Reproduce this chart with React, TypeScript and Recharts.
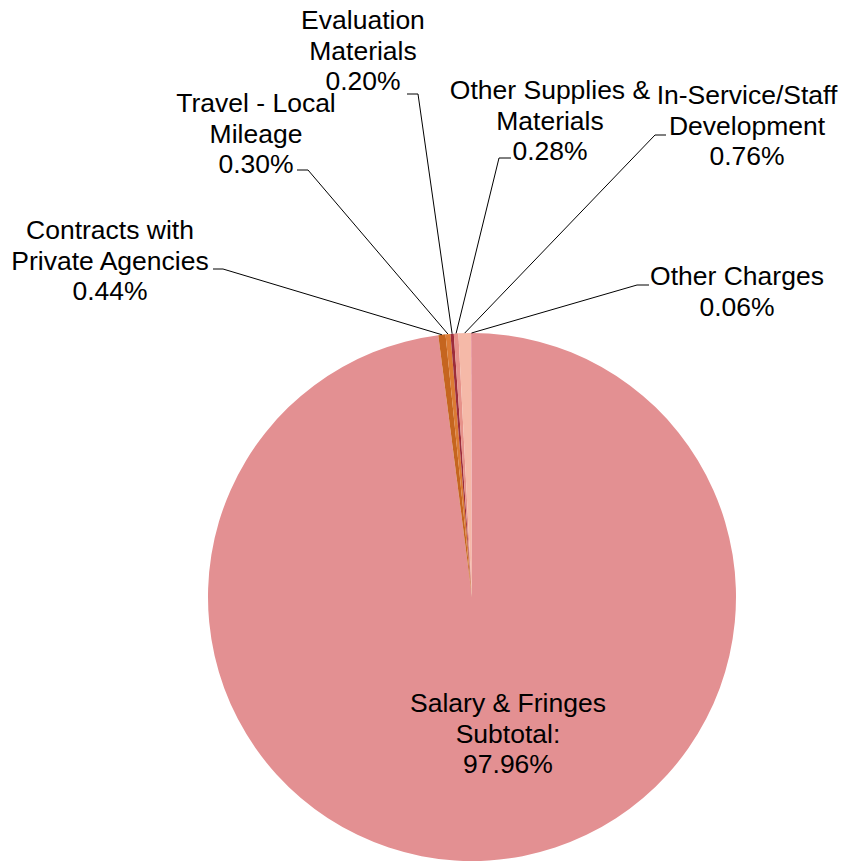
import { PieChart, Pie, Cell } from 'recharts';

const categories = [
    "Salary & Fringes\nSubtotal:",
    "Contracts with\nPrivate Agencies",
    "Travel - Local\nMileage",
    "Evaluation\nMaterials",
    "Other Supplies &\nMaterials",
    "In-Service/Staff\nDevelopment",
    "Other Charges",
];
const shares = [97.96, 0.44, 0.30, 0.20, 0.28, 0.76, 0.06];
const colors = ["#E39092", "#C5651F", "#DC7B34", "#9C2D3B", "#E7928A", "#F5B9A8", "#E89AA3"];

// hand-placed label boxes: text centre, first baseline, short horizontal leader stub
const labelPos = [
    { x: 508, y: 712, stub: null },
    { x: 110, y: 239, stub: [213, 269, 223, 269] },
    { x: 256, y: 112, stub: [297, 170, 308, 170] },
    { x: 363, y: 29, stub: [407, 94, 418, 94] },
    { x: 550, y: 99, stub: [511, 158, 499, 158] },
    { x: 747, y: 104, stub: [666, 135, 655, 135] },
    { x: 737, y: 285, stub: [649, 285, 637, 285] },
];

const data = categories.map((name, i) => ({ name, value: shares[i] }));

const RAD = Math.PI / 180;
const LINE_H = 30.5;

function renderLabel(props: any) {
    const { cx, cy, midAngle, outerRadius, index } = props;
    const pos = labelPos[index];
    const lines = [...categories[index].split("\n"), `${shares[index].toFixed(2)}%`];
    let leader = null;
    if (pos.stub) {
        const [x1, y1, x2, y2] = pos.stub;
        const ax = cx + outerRadius * Math.cos(-midAngle * RAD);
        const ay = cy + outerRadius * Math.sin(-midAngle * RAD);
        leader = (
            <polyline
                points={`${x1},${y1} ${x2},${y2} ${ax},${ay}`}
                fill="none"
                stroke="#000"
                strokeWidth={1}
            />
        );
    }
    return (
        <g key={`lbl-${index}`}>
            {leader}
            <text
                x={pos.x}
                y={pos.y}
                textAnchor="middle"
                fill="#000"
                fontSize={26.5}
                fontFamily="'Liberation Sans', Arial, sans-serif"
            >
                {lines.map((l, i) => (
                    <tspan key={i} x={pos.x} y={pos.y + i * LINE_H}>{l}</tspan>
                ))}
            </text>
        </g>
    );
}

export default function App() {
    return (
        <div style={{ position: 'absolute', left: 0, top: 0, width: 849, height: 861, background: '#fff' }}>
            <PieChart width={849} height={861} margin={{ top: 0, right: 0, bottom: 0, left: 0 }}>
                <Pie
                    data={data}
                    dataKey="value"
                    nameKey="name"
                    cx={472}
                    cy={597}
                    outerRadius={264}
                    startAngle={90}
                    endAngle={-270}
                    stroke="none"
                    labelLine={false}
                    label={renderLabel}
                    isAnimationActive={false}
                >
                    {data.map((d, i) => (
                        <Cell key={d.name} fill={colors[i]} />
                    ))}
                </Pie>
            </PieChart>
        </div>
    );
}
